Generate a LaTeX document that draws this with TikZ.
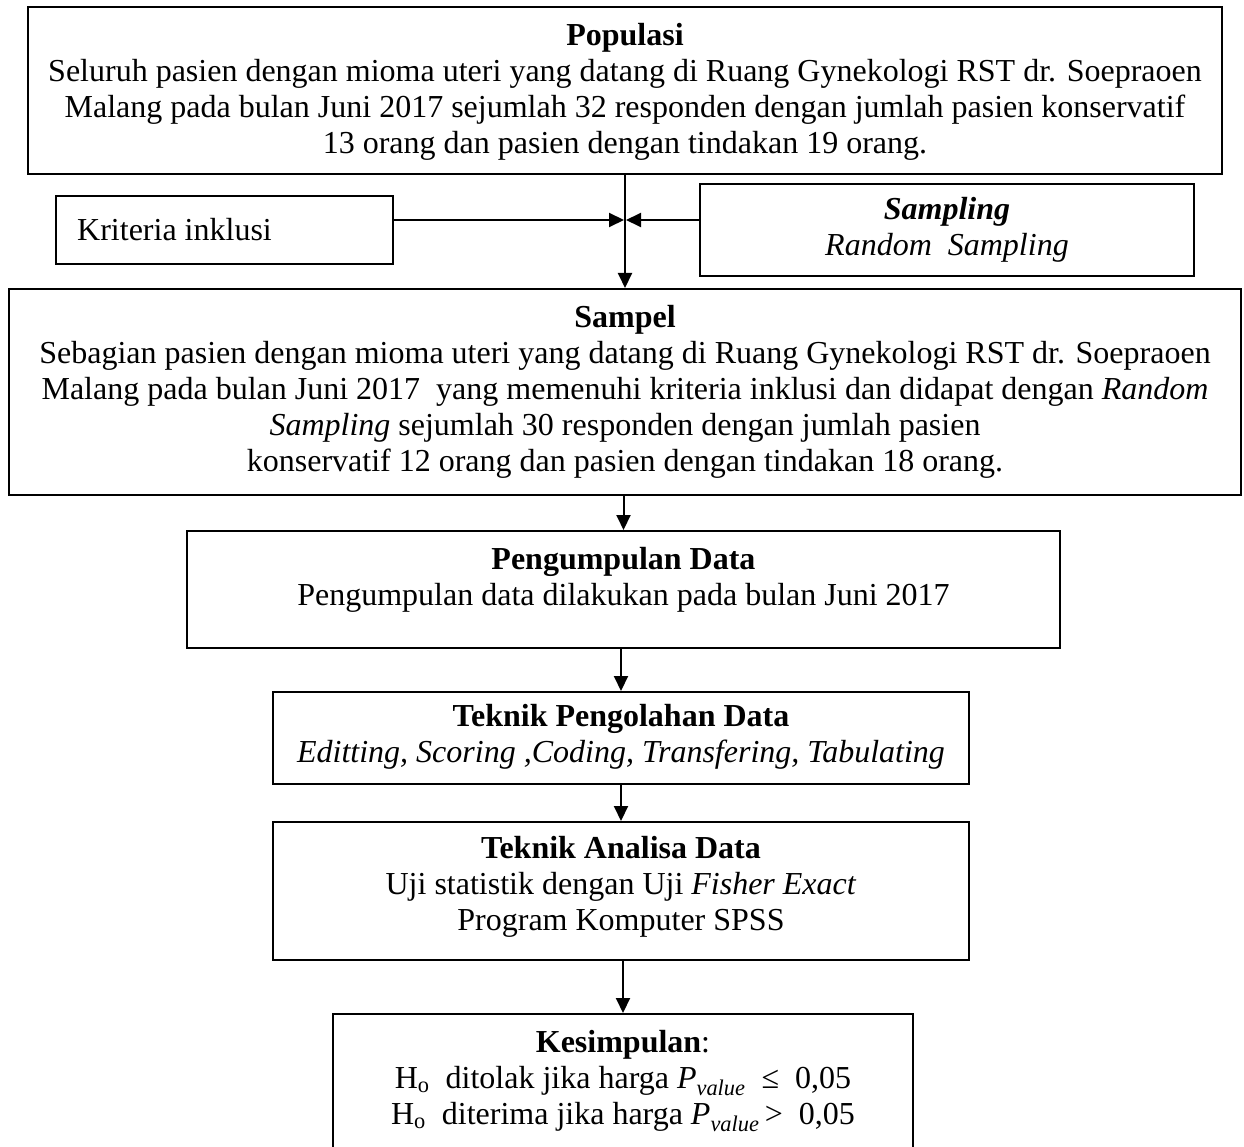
\documentclass[tikz,border=0pt]{standalone}
\usepackage{fontspec}
\setmainfont{Liberation Serif}
\usetikzlibrary{arrows.meta}
\begin{document}
\begin{tikzpicture}[x=1pt,y=-1pt,
  box/.style={draw,line width=2pt,inner sep=0pt,anchor=north west},
  txt/.style={anchor=north,inner sep=0pt,align=center,font=\fontsize{32}{36}\selectfont},
  arr/.style={line width=2pt,-{Triangle[length=15pt,width=14pt]}}]
\useasboundingbox (0,0) rectangle (1244,1147);
\clip (0,0) rectangle (1244,1147);
% boxes
\node[box,minimum width=1194pt,minimum height=167pt] (pop) at (27,6) {};
\node[box,minimum width=337pt,minimum height=68pt] (krit) at (55,195) {};
\node[box,minimum width=494pt,minimum height=92pt] (samp) at (699,183) {};
\node[box,minimum width=1232pt,minimum height=206pt] (sam) at (8,288) {};
\node[box,minimum width=873pt,minimum height=117pt] (peng) at (186,530) {};
\node[box,minimum width=696pt,minimum height=92pt] (olah) at (272,691) {};
\node[box,minimum width=696pt,minimum height=138pt] (anal) at (272,821) {};
\node[box,minimum width=580pt,minimum height=200pt] (kes) at (332,1013) {};
% texts
\node[txt] (popt) at ([yshift=-14pt]pop.north) {\strut\textbf{Populasi}\\
\strut Seluruh pasien dengan mioma uteri yang datang di Ruang Gynekologi RST dr. Soepraoen\\
\strut Malang pada bulan Juni 2017 sejumlah 32 responden dengan jumlah pasien konservatif\\
\strut 13 orang dan pasien dengan tindakan 19 orang.};
\node[anchor=west,inner sep=0pt,font=\fontsize{32}{36}\selectfont] (kritt) at ([xshift=22pt]krit.west) {Kriteria inklusi};
\node[txt,anchor=center] (sampt) at (samp.center) {\strut\textbf{\textit{Sampling}}\\
\strut\textit{Random\ \ Sampling}};
\node[txt] (samt) at ([yshift=-14pt]sam.north) {\strut\textbf{Sampel}\\
\strut Sebagian pasien dengan mioma uteri yang datang di Ruang Gynekologi RST dr. Soepraoen\\
\strut Malang pada bulan Juni 2017\ \ yang memenuhi kriteria inklusi dan didapat dengan \textit{Random}\\
\strut\textit{Sampling} sejumlah 30 responden dengan jumlah pasien\\
\strut konservatif 12 orang dan pasien dengan tindakan 18 orang.};
\node[txt] (pengt) at ([yshift=-14pt]peng.north) {\strut\textbf{Pengumpulan Data}\\
\strut Pengumpulan data dilakukan pada bulan Juni 2017};
\node[txt] (olaht) at ([yshift=-10pt]olah.north) {\strut\textbf{Teknik Pengolahan Data}\\
\strut\textit{Editting, Scoring ,Coding, Transfering, Tabulating}};
\node[txt] (analt) at ([yshift=-12pt]anal.north) {\strut\textbf{Teknik Analisa Data}\\
\strut Uji statistik dengan Uji \textit{Fisher Exact}\\
\strut Program Komputer SPSS};
\node[txt] (kest) at ([yshift=-14pt]kes.north) {\strut\textbf{Kesimpulan}:\\
\strut H\textsubscript{o}\ \ ditolak jika harga \textit{P\textsubscript{value}}\ \ ≤\ \ 0,05\\
\strut H\textsubscript{o}\ \ diterima jika harga \textit{P\textsubscript{value}}\,>\ \ 0,05};
% connectors
\coordinate (j) at (625,220);
\draw[line width=2pt] (pop.south -| j) -- (j);
\draw[arr] (j) -- (sam.north -| j);
\draw[arr] (krit.east |- j) -- ([xshift=-1pt]j);
\draw[arr] (samp.west |- j) -- ([xshift=1pt]j);
\draw[arr] (sam.south -| peng.north) -- (peng.north);
\draw[arr] (peng.south -| olah.north) -- (olah.north);
\draw[arr] (olah.south) -- (anal.north);
\draw[arr] (anal.south -| kes.north) -- (kes.north);
\end{tikzpicture}
\end{document}
